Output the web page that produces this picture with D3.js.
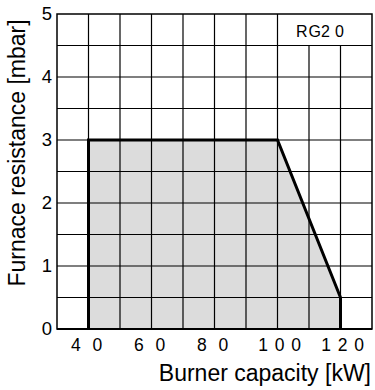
<!DOCTYPE html>
<html>
<head>
<meta charset="utf-8">
<script src="https://cdn.jsdelivr.net/npm/d3@7"></script>
<style>
    body { margin: 0; background: #fff; }
    text { font-family: "Liberation Sans", Arial, Helvetica, sans-serif; fill: #000; }
</style>
</head>
<body>
<div id="app"></div>
<script>

// ---------- CONSTANTS ----------

const WIDTH = 375;
const HEIGHT = 390;

const PLOT_LEFT = 57;
const PLOT_RIGHT = 372;
const PLOT_TOP = 14;
const PLOT_BOTTOM = 329;

// ---------- DATA ----------

// working field outline (kW, mbar)
const capacity = [40, 40, 100, 120, 120];
const resistance = [0, 3, 3, 0.5, 0];

const xTicks = [40, 60, 80, 100, 120];
const yTicks = [0, 1, 2, 3, 4, 5];

const xDomain = [30, 130];
const yDomain = [0, 5];

const modelName = ["R", "G", "2", "0"];

// ---------- Helpers ----------

// the printed tick labels have their digits spread apart
function spreadDigits(sel) {
    sel.each(function(d) {
        const digits = String(d).split("");
        const step = digits.length > 2 ? 16.5 : 21.5;
        const shift = digits.length > 2 ? 1.5 : -2.5;
        const t = d3.select(this).text(null);
        digits.forEach((c, i) => {
            t.append("tspan")
                .attr("x", shift + (i - (digits.length - 1) / 2) * step)
                .attr("text-anchor", "middle")
                .text(c);
        });
    });
}

// ---------- Main Program ----------

function main() {

    const svg = d3.select("#app")
        .append("svg")
        .attr("width", WIDTH)
        .attr("height", HEIGHT);

    // ---------- Scalers ----------

    const scaleX = d3.scaleLinear()
        .domain(xDomain)
        .range([PLOT_LEFT, PLOT_RIGHT]);

    const scaleY = d3.scaleLinear()
        .domain(yDomain)
        .range([PLOT_BOTTOM, PLOT_TOP]);

    // ---------- Working field ----------

    const points = capacity.map((c, i) => [scaleX(c), scaleY(resistance[i])]);

    svg.append("path")
        .attr("d", d3.line()(points) + "Z")
        .attr("fill", "#dcdcdc")
        .attr("stroke", "none");

    // ---------- Grid ----------

    // horizontal lines every 0.5 mbar
    const hLines = d3.range(0.5, 5, 0.5);
    svg.append("g")
        .selectAll("line")
        .data(hLines)
        .enter()
        .append("line")
        .attr("x1", PLOT_LEFT)
        .attr("x2", PLOT_RIGHT)
        .attr("y1", d => scaleY(d))
        .attr("y2", d => scaleY(d))
        .attr("stroke", "#000")
        .attr("stroke-width", 1.2);

    // vertical lines every 10 kW, the ones under the label box stop at 4.5
    const vLines = d3.range(40, 130, 10);
    svg.append("g")
        .selectAll("line")
        .data(vLines)
        .enter()
        .append("line")
        .attr("x1", d => scaleX(d))
        .attr("x2", d => scaleX(d))
        .attr("y1", PLOT_BOTTOM)
        .attr("y2", d => d > 100 ? scaleY(4.5) : PLOT_TOP)
        .attr("stroke", "#000")
        .attr("stroke-width", 1.2);

    // frame
    svg.append("rect")
        .attr("x", PLOT_LEFT)
        .attr("y", PLOT_TOP)
        .attr("width", PLOT_RIGHT - PLOT_LEFT)
        .attr("height", PLOT_BOTTOM - PLOT_TOP)
        .attr("fill", "none")
        .attr("stroke", "#000")
        .attr("stroke-width", 1.5);

    // bottom axis line is a bit heavier
    svg.append("line")
        .attr("x1", PLOT_LEFT)
        .attr("x2", PLOT_RIGHT)
        .attr("y1", PLOT_BOTTOM)
        .attr("y2", PLOT_BOTTOM)
        .attr("stroke", "#000")
        .attr("stroke-width", 2);

    // outline of the field
    svg.append("path")
        .attr("d", d3.line()(points))
        .attr("fill", "none")
        .attr("stroke", "#000")
        .attr("stroke-width", 3)
        .attr("stroke-linejoin", "miter");

    // ---------- Axes ----------

    // x-axis labels
    const axisBottom = d3.axisBottom(scaleX)
        .tickValues(xTicks)
        .tickSize(0)
        .tickPadding(0);
    const gx = svg.append("g")
        .attr("id", "x-axis")
        .attr("transform", `translate(0, ${PLOT_BOTTOM})`)
        .call(axisBottom);
    gx.select(".domain").remove();
    gx.selectAll("text")
        .attr("y", 22)
        .attr("dy", 0)
        .style("font-size", "17.5px")
        .attr("fill", "#000")
        .call(spreadDigits);

    // y-axis labels
    const axisLeft = d3.axisLeft(scaleY)
        .tickValues(yTicks)
        .tickFormat(d3.format("d"))
        .tickSize(0)
        .tickPadding(5);
    const gy = svg.append("g")
        .attr("id", "y-axis")
        .attr("transform", `translate(${PLOT_LEFT}, 0)`)
        .call(axisLeft);
    gy.select(".domain").remove();
    gy.selectAll("text")
        .style("font-size", "18.5px")
        .attr("fill", "#000");

    // axis titles
    svg.append("text")
        .attr("x", 371)
        .attr("y", 380.5)
        .attr("text-anchor", "end")
        .style("font-size", "23px")
        .text("Burner capacity [kW]");

    svg.append("text")
        .attr("transform", `translate(25, 153) rotate(-90)`)
        .attr("text-anchor", "middle")
        .style("font-size", "23px")
        .text("Furnace resistance [mbar]");

    // model label in the top right box
    const label = svg.append("text")
        .attr("x", 296)
        .attr("y", 36.5)
        .style("font-size", "16px");
    label.selectAll("tspan")
        .data(modelName)
        .enter()
        .append("tspan")
        .attr("dx", (d, i) => i === 1 ? 1 : (i === 3 ? 5 : 0))
        .text(d => d);
}

main();

</script>
</body>
</html>
